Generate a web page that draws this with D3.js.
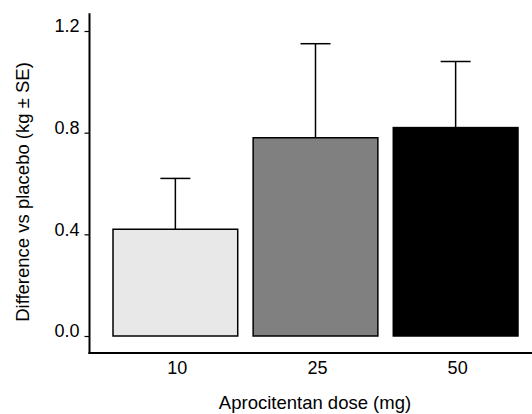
<!DOCTYPE html>
<html><head><meta charset="utf-8">
<script src="https://cdn.jsdelivr.net/npm/d3@7"></script>
<style>body{margin:0;background:#fff}text{font-family:"Liberation Sans",Arial,sans-serif;fill:#000}</style>
</head><body><svg id="c" width="532" height="414"></svg>
<script>
const categories = ["10", "25", "50"];
const means = [0.42, 0.78, 0.82];
const se = [0.20, 0.37, 0.26];
const yTicks = [0.0, 0.4, 0.8, 1.2];
const colors = ["#e8e8e8", "#808080", "#000000"];

const svg = d3.select("#c");
const y = d3.scaleLinear().domain([0, 1.2]).range([336, 31]);
const x = d3.scaleBand().domain(categories).range([106, 525]).paddingInner(0.11).paddingOuter(0.05);
const axisX = 89.5, axisY = 353;
const FF = '"Liberation Sans",Arial,sans-serif';

// bars
svg.selectAll("rect.bar").data(categories).join("rect")
  .attr("x", d => x(d)).attr("width", x.bandwidth())
  .attr("y", (d, i) => y(means[i])).attr("height", (d, i) => y(0) - y(means[i]))
  .attr("fill", (d, i) => colors[i]).attr("stroke", "#000").attr("stroke-width", 1.5);

// error bars
const eg = svg.selectAll("g.err").data(categories).join("g");
eg.append("line")
  .attr("x1", d => x(d) + x.bandwidth() / 2).attr("x2", d => x(d) + x.bandwidth() / 2)
  .attr("y1", (d, i) => y(means[i])).attr("y2", (d, i) => y(means[i] + se[i]))
  .attr("stroke", "#000").attr("stroke-width", 1.5);
eg.append("line")
  .attr("x1", d => x(d) + x.bandwidth() / 2 - 15).attr("x2", d => x(d) + x.bandwidth() / 2 + 15)
  .attr("y1", (d, i) => y(means[i] + se[i])).attr("y2", (d, i) => y(means[i] + se[i]))
  .attr("stroke", "#000").attr("stroke-width", 1.5);

// y axis
const ya = svg.append("g").attr("transform", `translate(${axisX},0)`)
  .call(d3.axisLeft(y).tickValues(yTicks).tickFormat(d3.format(".1f")).tickSize(5).tickPadding(5));
ya.attr("font-size", null).attr("font-family", null);
ya.select(".domain").remove();
ya.selectAll(".tick line").attr("stroke-width", 1.2);
ya.selectAll(".tick text").attr("dy", "0.05em")
  .style("font-size", "18px").style("font-family", FF);
svg.append("line").attr("x1", axisX).attr("x2", axisX).attr("y1", y(1.27)).attr("y2", axisY + 1)
  .attr("stroke", "#000").attr("stroke-width", 2);

// x axis
svg.append("line").attr("x1", axisX - 1).attr("x2", 532).attr("y1", axisY).attr("y2", axisY)
  .attr("stroke", "#000").attr("stroke-width", 2);
const xa = svg.append("g").attr("transform", `translate(0,${axisY})`)
  .call(d3.axisBottom(x).tickSize(0).tickPadding(8));
xa.attr("font-size", null).attr("font-family", null);
xa.select(".domain").remove();
xa.selectAll(".tick text").attr("dx", "2")
  .style("font-size", "18px").style("font-family", FF);

// titles
svg.append("text").attr("x", 315).attr("y", 409).attr("text-anchor", "middle")
  .style("font-size", "18.5px").text("Aprocitentan dose (mg)");
svg.append("text").attr("transform", "translate(28.5,192) rotate(-90)").attr("text-anchor", "middle")
  .style("font-size", "18.5px").text("Difference vs placebo (kg ± SE)");
</script></body></html>
